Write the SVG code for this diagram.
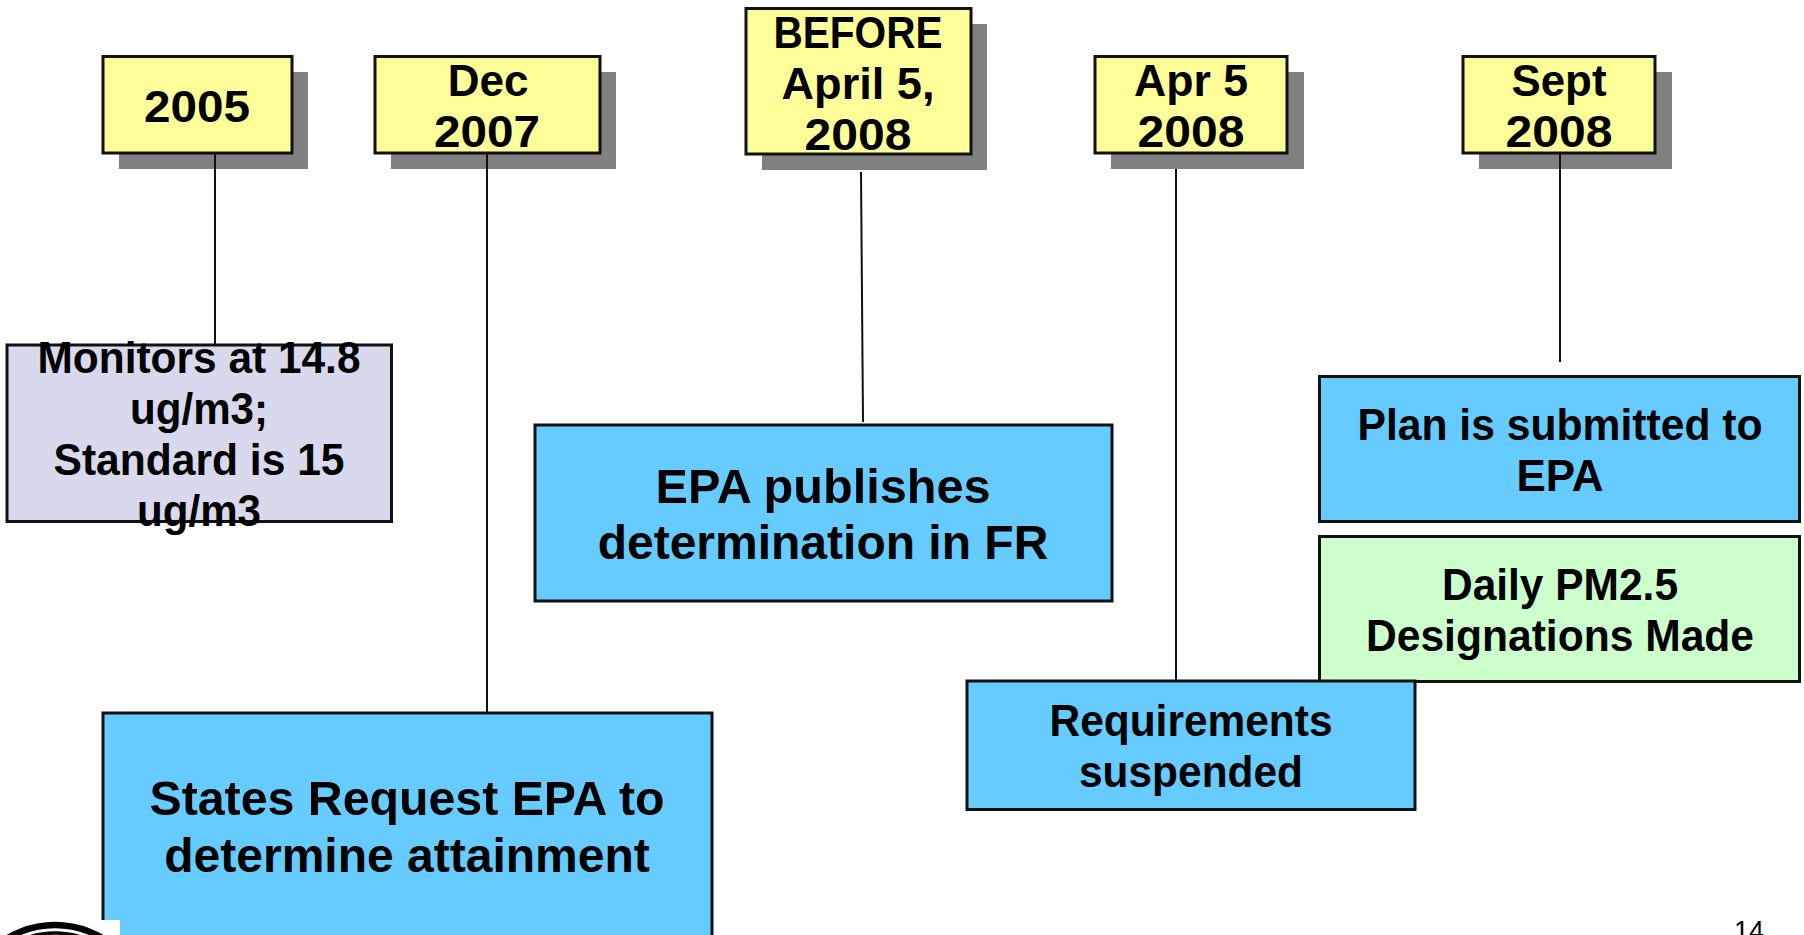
<svg xmlns="http://www.w3.org/2000/svg" width="1804" height="935" viewBox="0 0 1804 935">
<style>
text{font-family:"Liberation Sans",Arial,sans-serif;font-weight:bold;fill:#000;text-anchor:middle}
.s{fill:#808080}
.y{fill:#FFFF99;stroke:#111;stroke-width:3}
.b{fill:#66CCFF;stroke:#111;stroke-width:3}
.g{fill:#CCFFCC;stroke:#111;stroke-width:3}
.p{fill:#D9D9ED;stroke:#111;stroke-width:3}
.d{font-size:44px}
.l{font-size:48px}
.c line{stroke:#111;stroke-width:2}
.r{fill:none;stroke:#000}
</style>
<g id="d2005"><rect class="s" x="119" y="72" width="189" height="97"/><rect class="y" x="103" y="56.500" width="189" height="96.500"/><text class="d" x="197" y="122" textLength="106" lengthAdjust="spacingAndGlyphs">2005</text></g>
<g id="d2007"><rect class="s" x="391" y="72" width="225" height="97"/><rect class="y" x="375" y="56.500" width="225" height="96.500"/><text class="d" x="488" y="96">Dec</text><text class="d" x="487" y="147" textLength="106" lengthAdjust="spacingAndGlyphs">2007</text></g>
<g id="before"><rect class="s" x="762" y="24" width="225" height="146"/><rect class="y" x="746" y="8.500" width="225" height="145.500"/><text class="d" x="858" y="48" textLength="169" lengthAdjust="spacingAndGlyphs">BEFORE</text><text class="d" x="858" y="99" textLength="153" lengthAdjust="spacingAndGlyphs">April 5,</text><text class="d" x="858" y="150" textLength="107" lengthAdjust="spacingAndGlyphs">2008</text></g>
<g id="apr"><rect class="s" x="1111" y="72" width="193" height="97"/><rect class="y" x="1095" y="56.500" width="192" height="96.500"/><text class="d" x="1191" y="96" textLength="114" lengthAdjust="spacingAndGlyphs">Apr 5</text><text class="d" x="1191" y="147" textLength="107" lengthAdjust="spacingAndGlyphs">2008</text></g>
<g id="sept"><rect class="s" x="1479" y="72" width="193" height="97"/><rect class="y" x="1463" y="56.500" width="192" height="96.500"/><text class="d" x="1559" y="96" textLength="95" lengthAdjust="spacingAndGlyphs">Sept</text><text class="d" x="1559" y="147" textLength="107" lengthAdjust="spacingAndGlyphs">2008</text></g>
<g id="monitors"><rect class="p" x="7" y="345" width="384.500" height="176.500"/><text class="d" x="199" y="373" textLength="323" lengthAdjust="spacingAndGlyphs">Monitors at 14.8</text><text class="d" x="199" y="424" textLength="138" lengthAdjust="spacingAndGlyphs">ug/m3;</text><text class="d" x="199" y="475" textLength="291" lengthAdjust="spacingAndGlyphs">Standard is 15</text><text class="d" x="199" y="526" textLength="124" lengthAdjust="spacingAndGlyphs">ug/m3</text></g>
<g id="publishes"><rect class="b" x="535" y="425" width="577" height="176"/><text class="l" x="823" y="503" textLength="335" lengthAdjust="spacingAndGlyphs">EPA publishes</text><text class="l" x="823" y="559">determination in FR</text></g>
<g id="states"><rect class="b" x="103" y="713" width="609" height="240"/><text class="l" x="407" y="815" textLength="515" lengthAdjust="spacingAndGlyphs">States Request EPA to</text><text class="l" x="407" y="872">determine attainment</text></g>
<g id="plan"><rect class="b" x="1319.500" y="376.500" width="480" height="145"/><text class="d" x="1560" y="440" textLength="405" lengthAdjust="spacingAndGlyphs">Plan is submitted to</text><text class="d" x="1560" y="491">EPA</text></g>
<g id="daily"><rect class="g" x="1319.500" y="536.500" width="480" height="145"/><text class="d" x="1560" y="600" textLength="236" lengthAdjust="spacingAndGlyphs">Daily PM2.5</text><text class="d" x="1560" y="651" textLength="388" lengthAdjust="spacingAndGlyphs">Designations Made</text></g>
<g id="requirements"><rect class="b" x="967" y="681" width="448" height="128.500"/><text class="d" x="1191" y="736" textLength="283" lengthAdjust="spacingAndGlyphs">Requirements</text><text class="d" x="1191" y="787" textLength="224" lengthAdjust="spacingAndGlyphs">suspended</text></g>
<g class="c" id="connectors">
<line x1="215" y1="153" x2="215" y2="345"/>
<line x1="487" y1="153" x2="487" y2="713"/>
<line x1="861" y1="172" x2="863" y2="422"/>
<line x1="1176" y1="169" x2="1176" y2="681"/>
<line x1="1560" y1="153" x2="1560" y2="362"/>
</g>
<g id="logo"><rect x="0" y="920" width="120" height="15" fill="#fff"/><circle class="r" cx="55" cy="1017" r="92" stroke-width="6.500"/><circle class="r" cx="55" cy="1017" r="84" stroke-width="3.500"/></g>
<text id="page" font-size="27" x="1749" y="940" style="font-weight:normal">14</text>
</svg>
